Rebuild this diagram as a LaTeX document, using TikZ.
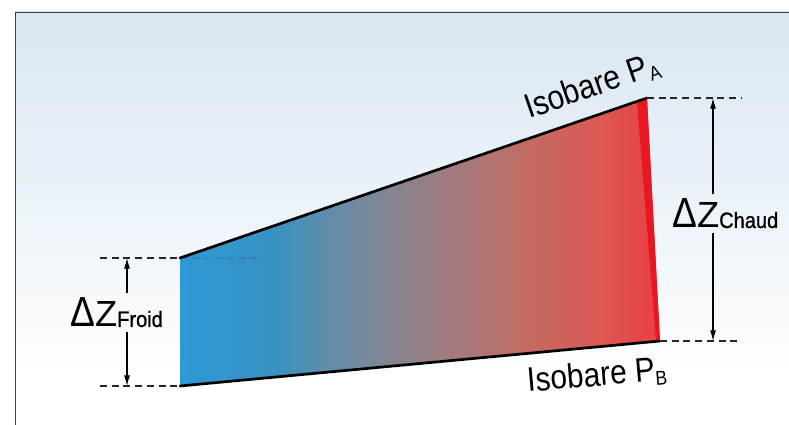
\documentclass[tikz,border=0pt]{standalone}
\usepackage{fontspec}
\setmainfont{Liberation Sans}
\newfontfamily\condsf[FakeStretch=0.88]{Liberation Sans}
\newfontfamily\subsf[FakeStretch=0.9,FakeBold=1]{Liberation Sans}
\usetikzlibrary{arrows.meta}

\definecolor{fondhaut}{RGB}{216,231,243}
\definecolor{rougevif}{RGB}{232,24,34}

% cold (blue) to warm (red) across the column
\pgfdeclarehorizontalshading{froidchaud}{100bp}{
  rgb(0bp)=(0.18,0.6,0.84);
  rgb(25bp)=(0.18,0.6,0.84);
  rgb(35bp)=(0.22,0.57,0.76);
  rgb(41.5bp)=(0.41,0.55,0.65);
  rgb(47.5bp)=(0.53,0.51,0.56);
  rgb(54bp)=(0.65,0.48,0.49);
  rgb(61bp)=(0.76,0.42,0.39);
  rgb(68.5bp)=(0.86,0.35,0.33);
  rgb(75bp)=(0.92,0.24,0.27);
  rgb(100bp)=(0.92,0.24,0.27)}

\newcommand{\dzlbl}[1]{{\condsf\fontsize{36}{36}\selectfont Δ}{\fontsize{31}{31}\selectfont Z}{\subsf\fontsize{19}{19}\selectfont #1}}
\newcommand{\isob}[1]{Isobare P{\fontsize{17}{17}\selectfont\raisebox{-4pt}{#1}}}

\begin{document}
\begin{tikzpicture}[
    x=0.03cm,y=0.03cm,
    isobar/.style={line width=2.3pt,line cap=round},
    dimline/.style={dash pattern=on 6pt off 4pt,line width=0.9pt,black!85},
    dimarrow/.style={line width=0.9pt,-{Latex[length=9pt,width=5pt]}},
    lbl/.style={font=\condsf\fontsize{29}{29}\selectfont,inner sep=0pt},
    dzl/.style={inner xsep=0pt,inner ysep=4pt}
]
\useasboundingbox (0,0) rectangle (789,425);

% background
\shade[top color=fondhaut,bottom color=white] (15,40) rectangle (789,413);
\draw[black!75,line width=0.8pt] (15,0) -- (15,413) -- (789,413);

% corners of the column
\coordinate (fh) at (180,167);
\coordinate (fb) at (180,39);
\coordinate (ch) at (647,327);
\coordinate (cb) at (660,84);

% air column, cold to warm
\shade[shading=froidchaud] (fh) -- (ch) -- (cb) -- (fb) -- cycle;
\fill[rougevif] (637,323) -- (ch) -- (cb) -- (656,84) -- cycle;

% isobars
\draw[isobar] (fh) -- (ch);
\draw[isobar] (fb) -- (cb);

% dashed guides
\coordinate (lg) at (100,0);
\coordinate (ld) at (742,0);
\draw[dimline] (lg |- fh) -- (fh);
\draw[dimline,opacity=0.15] (fh) -- (262,167);
\draw[dimline] (lg |- fb) -- (fb);
\draw[dimline] (ch) -- (ld |- ch);
\draw[dimline] (cb) -- (ld |- cb);

% thicknesses
\node[dzl,anchor=base west] (dzfroid) at (70,98) {\dzlbl{Froid}};
\node[dzl,anchor=base west] (dzchaud) at (672,197) {\dzlbl{Chaud}};
\coordinate (lv) at (127,0);
\coordinate (rv) at (713,0);
\draw[dimarrow] (dzfroid.north -| lv) -- (fh -| lv);
\draw[dimarrow] (dzfroid.south -| lv) -- (fb -| lv);
\draw[dimarrow] (dzchaud.north -| rv) -- (ch -| rv);
\draw[dimarrow] (dzchaud.south -| rv) -- (cb -| rv);

% isobar labels
\node[lbl,anchor=base west,rotate=19] (isoa) at (529,306) {\isob{A}};
\node[lbl,anchor=base west,rotate=5] (isob) at (528,33) {\isob{B}};

\end{tikzpicture}
\end{document}
